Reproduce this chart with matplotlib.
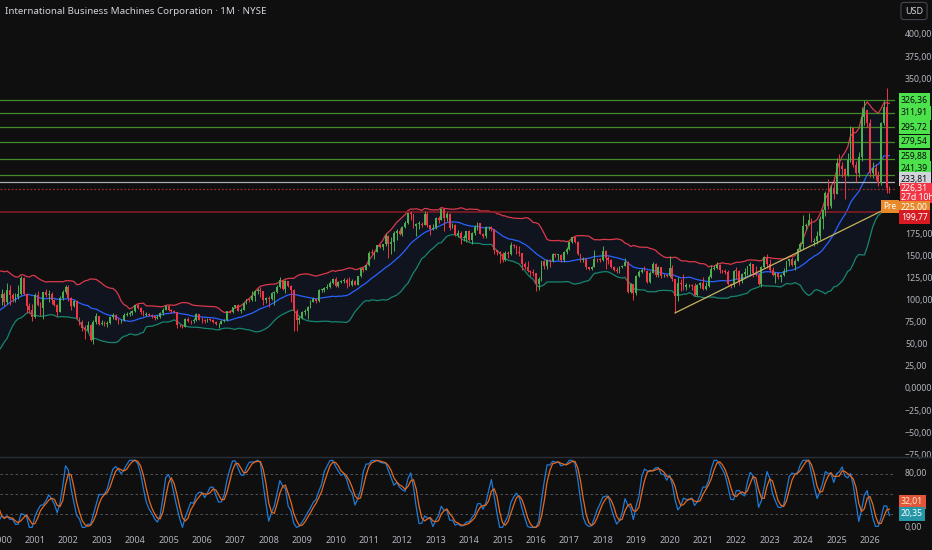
import numpy as np
import pandas as pd
import matplotlib
matplotlib.use("Agg")
import matplotlib.pyplot as plt

plt.rcParams['font.family'] = ['Noto Sans', 'DejaVu Sans']

# monthly closes 1997-1999, only used to warm up the indicators (off screen)
warmup_closes = [
    35.8, 34.1, 32.7, 38.3, 41.2, 42.9, 50.3, 48.2, 50.5, 46.7, 52.1, 49.8,
    46.6, 49.5, 49.4, 55.1, 56.0, 54.6, 63.0, 53.6, 60.9, 70.5, 81.1, 87.8,
    87.0, 80.5, 84.0, 99.5, 110.7, 123.0, 119.7, 118.6, 115.0, 93.6, 98.0, 102.7,
]

# monthly candles from Jan 2000 (open = previous close)
closes = [
    106.9, 97.9, 112.3, 106.1, 102.1, 104.3, 106.9, 125.7, 107.2, 93.8, 89.0, 80.9,      # 2000
    106.6, 95.2, 91.4, 109.5, 106.6, 107.6, 100.0, 95.2, 87.3, 102.8, 110.0, 115.2,     # 2001
    102.8, 93.3, 99.0, 80.0, 76.2, 68.5, 67.0, 71.8, 55.5, 75.2, 82.7, 73.8,            # 2002
    74.3, 73.9, 74.6, 80.8, 83.8, 78.5, 77.4, 78.1, 84.1, 85.2, 86.2, 88.2,             # 2003
    94.4, 91.9, 87.4, 84.0, 84.3, 84.0, 82.9, 80.6, 81.6, 85.4, 89.7, 93.9,             # 2004
    88.9, 88.2, 87.0, 72.7, 72.0, 70.6, 79.5, 76.7, 76.4, 78.0, 84.6, 78.3,             # 2005
    77.4, 76.4, 78.5, 78.4, 76.1, 73.1, 73.7, 77.1, 78.0, 87.9, 87.5, 92.5,             # 2006
    94.4, 88.5, 89.8, 97.3, 101.5, 100.2, 105.3, 111.1, 112.1, 110.5, 100.2, 102.9,     # 2007
    102.0, 108.4, 109.6, 114.9, 123.2, 112.8, 121.9, 115.9, 111.4, 88.5, 77.7, 80.2,    # 2008
    87.3, 87.6, 92.2, 98.2, 101.2, 99.4, 112.2, 112.3, 113.9, 114.8, 120.3, 124.6,      # 2009
    116.5, 121.1, 122.1, 122.8, 119.3, 117.6, 122.2, 117.2, 127.7, 136.7, 134.7, 139.8, # 2010
    154.2, 154.1, 155.3, 162.4, 160.8, 163.4, 173.2, 163.6, 166.5, 175.7, 179.0, 175.1, # 2011
    183.4, 187.3, 198.7, 197.2, 183.6, 186.2, 186.6, 185.5, 197.5, 185.2, 181.0, 182.4, # 2012
    193.4, 191.2, 203.1, 192.8, 198.0, 181.9, 185.6, 173.5, 176.3, 170.6, 171.1, 178.6, # 2013
    168.2, 176.3, 183.3, 187.1, 175.5, 172.6, 182.5, 183.1, 180.7, 156.5, 154.4, 152.7, # 2014
    145.9, 154.1, 152.8, 163.1, 161.6, 154.9, 154.2, 140.8, 138.0, 133.4, 132.7, 131.0, # 2015
    118.8, 124.7, 144.2, 138.9, 146.3, 144.5, 152.9, 151.3, 151.3, 146.3, 154.4, 158.0, # 2016
    166.1, 171.2, 165.7, 152.6, 145.3, 146.4, 137.8, 136.1, 138.1, 146.7, 146.6, 146.0, # 2017
    155.8, 148.3, 146.0, 138.0, 134.5, 133.0, 137.9, 139.5, 143.9, 109.9, 118.3, 108.2, # 2018
    128.0, 132.5, 134.3, 133.6, 120.9, 131.3, 141.1, 129.0, 138.4, 127.3, 128.0, 127.6, # 2019
    136.8, 123.9, 105.6, 119.6, 118.9, 115.0, 117.0, 117.4, 115.9, 106.3, 117.7, 119.9, # 2020
    113.4, 116.6, 126.9, 135.1, 136.8, 139.6, 134.2, 133.6, 132.2, 119.1, 117.1, 133.7, # 2021
    133.6, 122.5, 130.0, 132.2, 138.8, 141.2, 130.8, 128.5, 118.8, 138.3, 148.9, 140.9, # 2022
    134.7, 129.3, 131.1, 126.4, 128.6, 133.8, 144.2, 146.8, 140.3, 144.6, 158.6, 163.6, # 2023
    183.7, 185.0, 191.0, 166.2, 166.9, 173.0, 192.1, 202.1, 221.1, 206.7, 227.4, 219.8, # 2024
    255.7, 252.4, 248.7, 241.8, 259.1, 294.8, 253.2, 243.5, 262.0, 307.4, 315.0, 300.0, # 2025
    244.0, 250.0, 241.0, 233.0, 300.0, 319.0, 227.0, 226.31,                            # 2026
]

highs = [
    113, 110, 120, 118, 108, 108, 117, 128, 127, 109, 97, 96,
    108, 111, 98, 110, 113, 112, 110, 102, 96, 105, 112, 117,
    118, 104, 101, 100, 81, 78, 72, 77, 73, 78, 86, 83,
    78, 77, 77, 83, 86, 85, 80, 79, 86, 87, 88, 89,
    95, 96, 93, 89, 87, 86, 85, 83, 84, 87, 91, 95,
    95, 90, 89, 87, 74, 73, 80, 81, 78, 80, 86, 85,
    81, 79, 80, 80, 79, 77, 75, 78, 79, 88, 89, 93,
    95, 96, 91, 98, 102, 103, 111, 112, 114, 115, 111, 104,
    105, 110, 111, 118, 126, 124, 123, 122, 118, 113, 90, 82,
    88, 90, 94, 100, 104, 103, 113, 113, 115, 119, 122, 125,
    126, 122, 123, 125, 125, 126, 124, 123, 128, 137, 137, 140,
    156, 158, 156, 163, 164, 164, 176, 174, 172, 178, 181, 182,
    184, 190, 199, 201, 198, 188, 190, 189, 201, 200, 183, 186,
    194, 195, 205, 203, 200, 199, 187, 186, 180, 178, 174, 179,
    180, 177, 185, 189, 187, 176, 184, 184, 184, 181, 157, 156,
    155, 156, 156, 166, 164, 163, 162, 151, 143, 145, 134, 136,
    131, 126, 145, 146, 147, 147, 154, 154, 152, 152, 156, 160,
    167, 172, 172, 167, 153, 149, 148, 138, 139, 157, 148, 148,
    162, 157, 150, 147, 139, 138, 139, 140, 148, 145, 120, 119,
    129, 134, 137, 139, 134, 133, 144, 142, 139, 138, 130, 130,
    150, 140, 124, 127, 124, 130, 120, 119, 119, 120, 119, 121,
    126, 121, 129, 140, 140, 144, 141, 135, 136, 135, 120, 134,
    138, 135, 131, 137, 139, 144, 141, 139, 131, 139, 150, 153,
    147, 138, 132, 131, 130, 137, 145, 147, 149, 147, 159, 166,
    197, 188, 199, 193, 171, 178, 196, 203, 224, 237, 230, 239,
    261, 265, 256, 250, 267, 297, 296, 258, 268, 319, 326, 313,
    305, 256, 254, 246, 302, 326, 340, 229,
]

lows = [
    95, 94, 96, 95, 98, 98, 102, 106, 106, 86, 86, 77,
    80, 94, 82, 79, 104, 98, 96, 94, 83, 87, 100, 107,
    99, 89, 93, 79, 72, 65, 56, 64, 54, 51, 74, 72,
    72, 71, 70, 73, 79, 78, 74, 75, 77, 83, 83, 84,
    87, 90, 85, 82, 82, 82, 80, 78, 79, 80, 84, 89,
    88, 86, 86, 69, 70, 69, 70, 76, 73, 75, 77, 78,
    75, 75, 76, 77, 75, 72, 69, 73, 76, 77, 86, 86,
    91, 88, 86, 89, 96, 98, 99, 99, 107, 104, 95, 97,
    93, 100, 95, 108, 114, 112, 108, 115, 98, 66, 66, 74,
    79, 84, 79, 91, 98, 97, 98, 110, 110, 113, 114, 119,
    115, 115, 120, 120, 114, 116, 116, 117, 117, 127, 132, 134,
    139, 151, 147, 155, 159, 157, 162, 148, 153, 156, 168, 174,
    173, 182, 186, 191, 182, 173, 181, 183, 185, 183, 174, 180,
    181, 188, 191, 179, 190, 180, 182, 173, 172, 164, 167, 166,
    167, 164, 174, 180, 175, 171, 171, 180, 179, 152, 151, 142,
    143, 145, 148, 151, 159, 153, 150, 134, 136, 132, 128, 128,
    111, 112, 122, 136, 136, 138, 143, 149, 146, 143, 143, 152,
    157, 165, 165, 151, 143, 143, 136, 134, 135, 138, 143, 143,
    145, 136, 141, 137, 133, 131, 131, 137, 139, 109, 108, 101,
    106, 126, 131, 133, 120, 120, 131, 127, 127, 125, 127, 126,
    127, 122, 86, 99, 111, 112, 112, 115, 112, 105, 105, 114,
    112, 112, 115, 125, 134, 136, 131, 131, 130, 118, 114, 115,
    124, 118, 120, 126, 129, 128, 126, 128, 118, 115, 137, 137,
    132, 128, 120, 124, 121, 128, 132, 139, 139, 135, 145, 156,
    158, 180, 185, 166, 162, 164, 168, 181, 196, 203, 205, 215,
    220, 242, 240, 215, 241, 257, 251, 234, 239, 258, 298, 296,
    240, 238, 236, 229, 231, 298, 222, 222,
]

year_labels = [str(y) for y in range(2000, 2027)]
price_ticks = [400, 375, 350, 175, 150, 125, 100, 75, 50, 25, 0, -25, -50, -75]

green_levels = [326.36, 311.91, 295.72, 279.54, 259.88, 241.39]
white_level = 233.81
last_price = 226.31
pre_price = 225.00
red_level = 199.77

# hand-drawn trend line anchors (month index, price)
trend_idx = [242, 318]
trend_prices = [86.0, 204.0]

stoch_d_last = 32.01
stoch_k_last = 20.35

# ---- indicators ----
all_close = pd.Series(warmup_closes + closes, dtype=float)
x_all = np.arange(len(all_close)) - len(warmup_closes)

basis = all_close.rolling(20).mean()
dev = all_close.rolling(20).std(ddof=0)
upper = basis + 2 * dev
lower = basis - 2 * dev

delta = all_close.diff()
gain = delta.clip(lower=0).ewm(alpha=1 / 14, adjust=False).mean()
loss = (-delta.clip(upper=0)).ewm(alpha=1 / 14, adjust=False).mean()
rsi = 100 - 100 / (1 + gain / loss)
rsi_lo = rsi.rolling(14).min()
rsi_hi = rsi.rolling(14).max()
stoch = 100 * (rsi - rsi_lo) / (rsi_hi - rsi_lo)
k_line = stoch.rolling(3).mean()
d_line = k_line.rolling(3).mean()

# ---- figure ----
bg = '#0f0f0f'
txt = '#b2b5be'
fig = plt.figure(figsize=(9.32, 5.5), dpi=100, facecolor=bg)
W, H = 932, 550
right_px = 895
ax = fig.add_axes([0, 1 - 456 / H, right_px / W, 456 / H], facecolor=bg)
ax2 = fig.add_axes([0, 1 - 530 / H, right_px / W, (530 - 457) / H], facecolor=bg)

xlim = (-0.54, 321.0)
for a in (ax, ax2):
    a.set_xlim(*xlim)
    for s in a.spines.values():
        s.set_visible(False)
    a.tick_params(left=False, right=False, labelleft=False, bottom=False, labelbottom=False)
ax.set_ylim(-75.7, 439.5)
ax2.set_ylim(-3.9, 104.9)

# Bollinger bands
ax.fill_between(x_all, lower, upper, color='#2962ff', alpha=0.07, lw=0, zorder=1)
ax.plot(x_all, upper, color='#d9394b', lw=0.9, zorder=2)
ax.plot(x_all, basis, color='#2962ff', lw=0.9, zorder=2)
ax.plot(x_all, lower, color='#16866f', lw=0.9, zorder=2)

# candles
c = np.array(closes)
o = np.array([warmup_closes[-1]] + closes[:-1])
hi = np.maximum(np.array(highs, dtype=float), np.maximum(o, c))
lo = np.minimum(np.array(lows, dtype=float), np.minimum(o, c))
xi = np.arange(len(c))
up = c >= o
colors = np.where(up, '#4caf50', '#f23645')
ax.vlines(xi, lo, hi, colors=colors, lw=0.7, zorder=3)
body_h = np.maximum(np.abs(c - o), 0.8)
ax.bar(xi, body_h, bottom=np.minimum(o, c), width=0.66, color=colors, lw=0, zorder=4)

# horizontal levels
for lv in green_levels:
    ax.axhline(lv, color='#4c9a2a', lw=0.9, alpha=0.9, zorder=2.5)
ax.axhline(white_level, color='#c8cad0', lw=0.9, alpha=0.85, zorder=2.5)
ax.axhline(last_price, color='#9b2b2b', lw=0.9, ls=(0, (1.5, 1.5)), zorder=2.5)
ax.axhline(red_level, color='#8b1d24', lw=1.1, zorder=2.5)

# trend line
ax.plot(trend_idx, trend_prices, color='#c8b45a', lw=0.9, zorder=5)

# stoch rsi panel
for lv in (80, 50, 20):
    ax2.axhline(lv, color='#5d606b', lw=0.6, ls=(0, (3, 3)))
ax2.plot(x_all, k_line, color='#1e7ad6', lw=0.9, zorder=3)
ax2.plot(x_all, d_line, color='#e8681a', lw=0.9, zorder=3)

# panel separator
fig.add_artist(plt.Line2D([0, 1], [1 - 457 / H, 1 - 457 / H], color='#2a2e39', lw=1))

# x axis years
ax2.set_xticks(np.arange(len(year_labels)) * 12)
ax2.set_xticklabels(year_labels)
ax2.tick_params(labelbottom=True, length=0, pad=4, labelsize=6.5, labelcolor=txt)


def fmt(v):
    return f"{v:.2f}".replace('.', ',').replace('-', '\u2212')


# right axis price labels
for v in price_ticks:
    label = '0,0000' if v == 0 else fmt(v)
    ax.annotate(label, xy=(1.0, v), xycoords=('axes fraction', 'data'), xytext=(10, 0),
                textcoords='offset pixels', ha='left', va='center', fontsize=6.3,
                color=txt, annotation_clip=False, zorder=6)
for v in (80, 0):
    ax2.annotate(fmt(v), xy=(1.0, v), xycoords=('axes fraction', 'data'), xytext=(10, 0),
                 textcoords='offset pixels', ha='left', va='center', fontsize=6.3,
                 color=txt, annotation_clip=False)


def tag(axis, y, text, fc, tc, dy=0, dx=6, pad=0.28, ls=1.2):
    axis.annotate(text, xy=(1.0, y), xycoords=('axes fraction', 'data'), xytext=(dx, dy),
                  textcoords='offset pixels', ha='left', va='center', fontsize=6.2,
                  color=tc, annotation_clip=False, zorder=10, linespacing=ls,
                  bbox=dict(boxstyle=f'square,pad={pad}', fc=fc, ec='none'))


level_shift = {259.88: 2, 241.39: 7}
for lv in green_levels:
    tag(ax, lv, fmt(lv), '#4ce24c', '#0a0a0a', dy=level_shift.get(lv, 0))
tag(ax, white_level, fmt(white_level), '#d1d4dc', '#0a0a0a', dy=3)
tag(ax, last_price, fmt(last_price) + '\n27d 10h', '#f23645', '#ffffff', dy=-4.5, pad=0.12, ls=1.0)
tag(ax, pre_price, fmt(pre_price), '#e8892c', '#ffffff', dy=-18)
tag(ax, red_level, fmt(red_level), '#d81b22', '#ffffff', dy=-5)
ax.annotate('Pre', xy=(1.0, pre_price), xycoords=('axes fraction', 'data'), xytext=(-5, -17),
            textcoords='offset pixels', ha='center', va='center', fontsize=6.0,
            color='#ffffff', annotation_clip=False, zorder=10,
            bbox=dict(boxstyle='square,pad=0.25', fc='#e8892c', ec='none'))

tag(ax2, stoch_d_last, fmt(stoch_d_last), '#e2553a', '#ffe9c4', dy=4)
tag(ax2, stoch_k_last, fmt(stoch_k_last), '#2596a6', '#ffffff', dy=0)

# title and currency box
fig.text(5 / W, 1 - 11 / H, 'International Business Machines Corporation \u00b7 1M \u00b7 NYSE',
         fontsize=7, color='#d1d4dc', va='center', ha='left')
fig.text(914 / W, 1 - 11 / H, 'USD', fontsize=6.5, color='#d1d4dc', va='center', ha='center',
         bbox=dict(boxstyle='round,pad=0.45,rounding_size=0.3', fc=bg, ec='#434651', lw=0.8))

fig.savefig('out.png', dpi=100, facecolor=bg)
